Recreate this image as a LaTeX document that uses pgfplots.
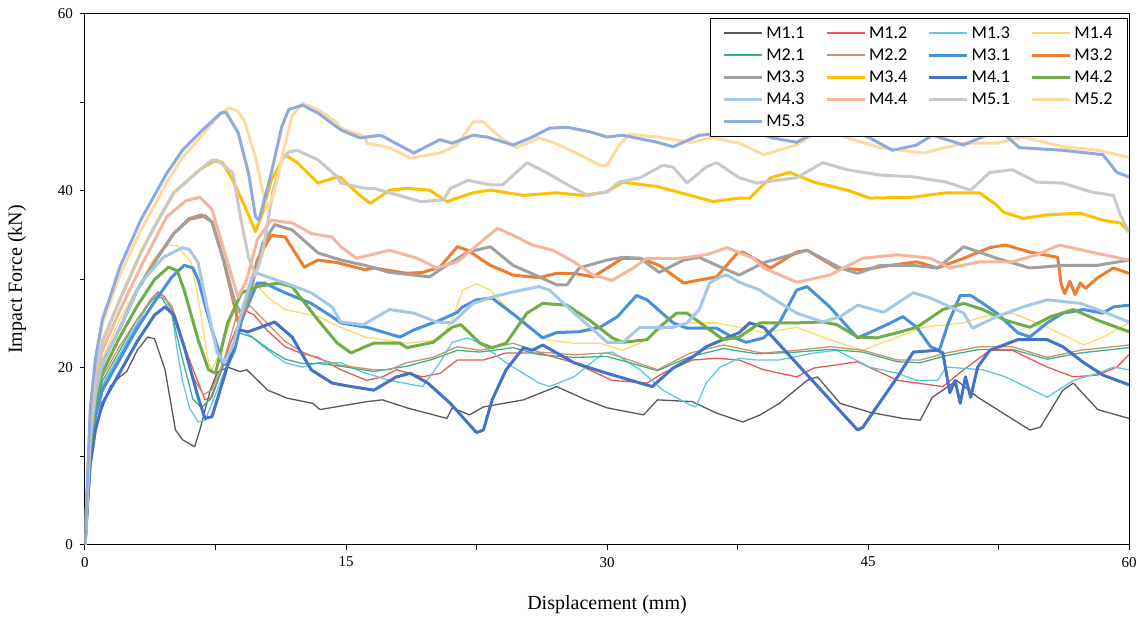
\documentclass[border=0pt]{standalone}
\usepackage{pgfplots}
\pgfplotsset{compat=1.18}
\usepackage{fontspec}
\setmainfont{Liberation Serif}
\newfontfamily\legendfont{Carlito}
\definecolor{cA}{HTML}{595959}
\definecolor{cB}{HTML}{E8575A}
\definecolor{cC}{HTML}{5BC8E8}
\definecolor{cD}{HTML}{FFD966}
\definecolor{cE}{HTML}{3CB08A}
\definecolor{cF}{HTML}{C9926B}
\definecolor{cG}{HTML}{4A90D9}
\definecolor{cH}{HTML}{ED7D31}
\definecolor{cI}{HTML}{A0A0A0}
\definecolor{cJ}{HTML}{FFC000}
\definecolor{cK}{HTML}{4472C4}
\definecolor{cL}{HTML}{70AD47}
\definecolor{cM}{HTML}{A5C8E8}
\definecolor{cN}{HTML}{F4B6A0}
\definecolor{cO}{HTML}{C9C9C9}
\definecolor{cP}{HTML}{FFD9A0}
\definecolor{cQ}{HTML}{8FAADC}
\begin{document}
\begin{tikzpicture}
\useasboundingbox (-42.5pt,-37pt) rectangle (526.5pt,272.5pt);
\begin{axis}[
 scale only axis, width=522pt, height=265.5pt,
 xmin=0,xmax=60,ymin=0,ymax=60,
 xtick={0,15,30,45,60}, minor xtick={7.5,22.5,37.5,52.5},
 ytick={0,20,40,60}, minor ytick={10,30,50},
 tick align=outside, xtick pos=bottom, ytick pos=left,
 major tick length=2.5pt, minor tick length=2.5pt,
 tick style={black, line width=0.5pt},
 axis line style={black, line width=0.5pt},
 ticklabel style={font=\fontsize{7.5}{9}\selectfont},
 /pgf/number format/assume math mode=true,
 xlabel={Displacement (mm)}, ylabel={Impact Force (kN)},
 label style={font=\fontsize{9.5}{11}\selectfont},
 every axis x label/.style={at={(axis description cs:0.5,0)}, anchor=center, yshift=-30pt},
 every axis y label/.style={at={(axis description cs:0,0.5)}, anchor=center, xshift=-34pt, rotate=90},
 no markers,
 every axis plot/.append style={line join=round},
 legend style={at={(0.999,0.993)}, anchor=north east, legend columns=4,
   font=\legendfont\fontsize{9}{11}\selectfont,
   inner xsep=6pt, inner ysep=2pt, row sep=0pt,
   nodes={inner sep=1.5pt, text height=6.5pt, text depth=1.5pt},
   /tikz/every even column/.append style={column sep=8.75pt}},
 legend image code/.code={\draw[#1] (0pt,0pt) -- (19pt,0pt);},
 legend cell align=left,
]
% M1.1
\addplot[draw=cA, line width=0.65pt] coordinates {(0,0)(0.2,6)(0.4,11)(0.6,13.5)(1,15.5)(1.44,17.9)(2,19)(2.4,19.6)(3,22)(3.6,23.5)(4,23.3)(4.6,19.8)(5.2,13)(5.6,11.9)(6.3,11.1)(6.6,13)(7.2,17.5)(7.6,19.5)(8.2,20.1)(8.9,19.6)(9.3,19.8)(10.5,17.5)(11.6,16.6)(13.1,16)(13.5,15.3)(15,15.8)(16.2,16.2)(17.1,16.4)(18.5,15.5)(20.8,14.3)(21.1,15.5)(22.1,14.7)(22.9,15.6)(25.2,16.4)(27.1,17.9)(28.8,16.4)(30,15.5)(32.1,14.7)(32.9,16.4)(34.9,16.2)(36.3,14.9)(37.8,13.9)(38.8,14.7)(39.9,16.0)(41.5,18.6)(42.1,19.0)(43.4,16.0)(45.1,15.0)(47,14.3)(48,14.1)(48.7,16.7)(49.3,17.5)(50.1,18.6)(51.3,16.7)(54.3,13.0)(54.9,13.3)(56.2,17.5)(56.8,18.3)(58.2,15.3)(60,14.3)};
% M1.2
\addplot[draw=cB, line width=0.65pt] coordinates {(0,0)(0.3,10)(0.6,15)(1,18)(2,21.5)(3,25)(3.8,27.8)(4.2,28.6)(4.6,28)(5.2,25.8)(5.8,22)(6.3,19.4)(6.9,16.4)(7.3,16.7)(7.8,19.5)(8.2,22)(8.7,24.5)(9.2,26.5)(9.7,26)(10.5,24.2)(11.5,22.4)(12.5,21.6)(13.4,21.2)(14.7,19.8)(16.2,18.6)(17.1,19.0)(17.9,19.8)(19.4,19.0)(20.4,19.4)(21.4,20.9)(22.9,20.9)(24.2,21.7)(26.1,21.7)(28.1,20.6)(30.3,18.6)(32.3,18.3)(33.2,19.4)(34.9,20.9)(36.3,21.1)(37.6,20.9)(39,19.8)(40.9,19.0)(41.9,20.0)(44.4,20.7)(46.7,18.6)(49.3,17.9)(50.5,19.8)(52,22)(53.3,22.0)(55.3,20.1)(56.8,19.0)(58.2,19.2)(59.3,20.1)(60,21.5)};
% M1.3
\addplot[draw=cC, line width=0.65pt] coordinates {(0,0)(0.3,10)(0.6,15)(1,18)(2,21.5)(3,25)(3.8,27.8)(4.3,28.5)(4.7,27.5)(5,26.2)(5.3,22)(5.6,18.6)(6,15.5)(6.5,13.9)(6.9,14.1)(7.5,17)(8.2,20.6)(8.8,24.6)(9.6,23.5)(10.5,22)(11.5,20.6)(12.5,20.1)(13.4,20.6)(14.7,20.6)(16,19.5)(17.5,18.6)(19.4,17.9)(20.4,20.6)(21.1,22.9)(22,23.4)(22.7,22.8)(24.2,20.6)(26.1,18.3)(26.7,17.9)(28.1,19.0)(29.8,21.7)(30.3,21.8)(31.9,19.8)(33.2,17.5)(34.8,15.8)(35.1,15.6)(35.7,18.3)(36.5,20.1)(37.6,21.1)(38.6,20.9)(39.9,20.9)(41.9,21.7)(43.2,22.0)(45.1,20.1)(46.7,19.4)(47.8,18.6)(49,18.6)(49.5,20.1)(51.6,19.8)(52.9,19.0)(55.3,16.7)(56.8,18.6)(58.2,19.4)(59.1,20.1)(60,19.8)};
% M1.4
\addplot[draw=cD, line width=0.65pt] coordinates {(0,0)(0.3,12)(0.6,17)(1,21)(2,25.5)(3,29)(4,32.5)(4.8,33.9)(5.3,33.8)(6.1,31.9)(6.5,28)(7.1,20.6)(7.3,19.8)(7.8,22)(8.5,26.2)(9.2,29.5)(9.8,29.5)(10.5,28)(11.5,26.6)(12.5,26.2)(13.4,25.8)(14.7,24.6)(16.1,23.5)(18.5,22.8)(20.4,23.2)(21.1,25.4)(21.7,28.8)(22.5,29.5)(23.3,28.8)(24.2,26.9)(25.2,25.1)(26.5,23.2)(28.1,22.8)(29.6,22.8)(30.9,22.0)(31.9,22.8)(33,24.3)(34.6,25.1)(36.3,25.1)(37.6,24.6)(39,24.0)(40.9,24.6)(42.8,23.2)(44.7,22.0)(46.3,23.2)(48.2,24.6)(50.5,25.1)(51.6,25.8)(53.3,26.2)(55.3,24.6)(57.4,22.6)(58.5,23.5)(60,25.1)};
% M2.1
\addplot[draw=cE, line width=0.65pt] coordinates {(0,0)(0.3,10)(0.6,15)(1,18.5)(2,22)(3,25.5)(3.9,27.8)(4.4,28)(5,26)(5.6,21)(6.2,16.5)(6.7,15.5)(7.2,16.5)(8,20.5)(8.8,24)(9.6,23.5)(10.5,22.2)(11.5,21)(12.5,20.5)(13.5,20.5)(14.7,20.2)(16.6,19.6)(18.5,20.2)(20,21)(21.4,22)(22.7,21.8)(24.6,22.3)(26.1,21.5)(28.1,21.2)(30,21.3)(31.3,20.6)(32.9,19.7)(34.8,21.3)(36.7,22.2)(38.6,21.6)(40.9,21.8)(42.8,22.1)(44.7,21.8)(46.7,20.7)(48,20.6)(49.5,21.4)(51.4,22.1)(53.3,22.1)(55.3,21)(57.2,21.7)(60,22.3)};
% M2.2
\addplot[draw=cF, line width=0.65pt] coordinates {(0,0)(0.3,11)(0.6,16)(1,19)(2,22.5)(3,25.5)(3.8,27.8)(4.4,28.3)(5,27)(5.6,23)(6.2,19)(6.8,17)(7.3,17.5)(8,21)(8.8,26.5)(9.5,27)(10.5,25)(11.5,23)(12.5,21.8)(13.5,21)(14.7,20.3)(16.6,19.8)(17.5,19.8)(18.5,20.6)(20,21.2)(21.4,22.4)(22.7,22.0)(24.6,22.8)(26.1,21.8)(28.1,21.5)(30,21.7)(31.3,20.9)(32.9,19.8)(33.2,20.1)(34.8,21.7)(36.7,22.6)(38.6,21.8)(39,21.7)(40.9,22.0)(42.8,22.4)(44.7,22.0)(46.7,20.9)(48,20.9)(49.5,21.7)(51.4,22.4)(53.3,22.4)(55.3,21.2)(57.2,22.0)(60,22.6)};
% M3.1
\addplot[draw=cG, line width=1.5pt] coordinates {(0,0)(0.3,10)(0.6,14.5)(1,17.5)(2,21)(3,24.5)(4,27.5)(5,30.3)(5.7,31.6)(6.2,31.3)(6.5,30)(7.3,24.3)(7.9,20.6)(8.2,20.3)(8.6,22)(9,25.4)(9.9,29.6)(10.3,29.6)(11.5,28.5)(13,27.3)(14.2,25.8)(14.7,25.1)(16.2,24.6)(18.1,23.5)(18.9,24.3)(20.4,25.4)(21.4,26.3)(21.7,26.9)(22.5,27.7)(23.4,27.9)(24.8,25.8)(26.3,23.4)(27.1,24.0)(28.4,24.1)(29.6,24.6)(30.6,25.8)(31.7,28.2)(32.3,27.7)(33.8,25.1)(34.6,24.5)(36.3,24.5)(37.1,23.6)(38,22.9)(39,23.4)(39.9,25.1)(40.9,28.8)(41.5,29.2)(42.8,26.9)(44.4,23.4)(45.1,24.0)(46.3,25.1)(47,25.8)(47.8,24.6)(48.6,22.4)(49.1,22)(49.6,25)(50.3,28.2)(50.9,28.2)(51.6,27.3)(52.4,26.2)(53.6,24.0)(54.3,23.5)(55.3,25.1)(56.2,26.2)(57.4,26.6)(58.5,26.2)(59.1,26.9)(60,27.1)};
% M3.2
\addplot[draw=cH, line width=1.5pt] coordinates {(0,0)(0.3,12)(0.6,17)(1,20.5)(2,24.5)(3,28.8)(4,32)(5.1,35.2)(6,36.8)(6.9,37.2)(7.3,36.5)(8,31.9)(8.6,26.9)(8.8,25.2)(9.2,26.5)(9.9,32.2)(10.7,35)(11.5,34.8)(12.6,31.4)(13.4,32.2)(14.5,31.9)(16.1,31.1)(16.6,31.3)(18.5,30.7)(19.4,30.8)(20.4,31.4)(21.4,33.7)(22,33.3)(23.3,31.6)(24.6,30.5)(26.1,30.2)(27.1,30.7)(28.1,30.7)(29.2,30.3)(30.9,32.4)(31.9,32.4)(33,31.6)(34.4,29.6)(36.3,30.3)(37.5,33.0)(37.8,33.1)(39.4,31.3)(40.9,33.1)(41.5,33.3)(43.2,31.3)(44.7,31.1)(46.3,31.6)(47.8,32.0)(49,31.3)(50.5,32.4)(52,33.6)(52.9,33.9)(54.3,33.1)(55.9,32.5)(56.1,29.5)(56.3,28.4)(56.6,29.8)(56.9,28.3)(57.2,29.6)(57.5,29.0)(58.2,30.2)(59.1,31.3)(60,30.7)};
% M3.3
\addplot[draw=cI, line width=1.5pt] coordinates {(0,0)(0.3,12)(0.6,17)(1,20.5)(2,24.5)(3,28.8)(4,32)(5.1,35.2)(6,36.9)(6.7,37.3)(7.3,36.5)(8,32)(8.6,27.5)(9,26)(9.5,28.5)(10.2,34)(10.9,36.2)(11.9,35.6)(13.4,33.0)(14.2,32.5)(14.7,32.2)(16.1,31.6)(17.5,30.8)(19.8,30.3)(20.4,31.1)(22,33.1)(23.3,33.7)(24.6,31.6)(26.1,30.3)(27.1,29.4)(27.7,29.4)(28.4,31.3)(30,32.2)(30.9,32.5)(31.9,32.4)(33,30.8)(34.4,32.2)(35.3,32.5)(36.3,31.6)(37.6,30.5)(39,31.9)(41.5,33.3)(43.4,31.3)(44.4,30.7)(45.7,31.6)(47.6,31.6)(49,31.3)(50.5,33.7)(52.4,32.4)(54.3,31.3)(56.2,31.6)(58.2,31.6)(60,32.2)};
% M3.4
\addplot[draw=cJ, line width=1.5pt] coordinates {(0,0)(0.3,14)(0.6,19.5)(1,23)(2,27.7)(3.2,33)(4,36)(5.1,39.8)(6.6,42.4)(7.5,43.5)(7.9,43.2)(8.5,41.2)(9.2,38.2)(9.8,35.4)(10.2,37.5)(10.7,41.2)(11.5,44.1)(12.2,43.2)(13.4,40.9)(14.5,41.6)(14.7,41.5)(15.8,39.5)(16.4,38.6)(17.5,40.1)(18.5,40.3)(19.8,40.1)(20.8,38.8)(22.3,39.8)(23.3,40.1)(25.2,39.5)(27.1,39.8)(28.6,39.5)(30,39.9)(30.9,41.0)(32.9,40.5)(34.8,39.5)(36.1,38.8)(37.6,39.2)(38.2,39.2)(39.4,41.5)(40.5,42.1)(41.9,41.0)(43.8,40.1)(45.1,39.2)(47.6,39.3)(49.5,39.8)(51.4,39.8)(52.4,38.4)(52.8,37.6)(53.9,36.9)(55.3,37.3)(57.2,37.5)(58.5,36.7)(59.5,36.4)(60,35.4)};
% M4.1
\addplot[draw=cK, line width=1.5pt] coordinates {(0,0)(0.3,9)(0.6,13)(1,16)(2,19.5)(3,23)(4,26)(4.6,26.9)(5.1,26)(5.7,22.4)(6.5,16.7)(6.9,14.3)(7.3,14.5)(8,19.0)(8.8,24.3)(9.4,24.1)(10.9,25.2)(11.9,23.5)(13,19.8)(14.2,18.3)(15.3,17.9)(16.6,17.5)(17.9,19.0)(18.7,19.4)(19.7,18.3)(21,16.0)(22.5,12.7)(22.9,13.0)(23.4,16.4)(24.2,19.8)(25.2,22.3)(25.7,22.0)(26.3,22.6)(28.1,20.6)(30,19.4)(31.9,18.3)(32.6,17.9)(33.8,20.0)(34.9,21.2)(35.7,22.4)(37.6,24.0)(38.2,25.1)(39,24.6)(44.4,13.0)(44.7,13.3)(45.5,15.6)(46.7,19.0)(47.6,21.8)(49,22.0)(49.3,21.7)(49.7,17.2)(50,18.6)(50.3,16.0)(50.6,19.0)(50.9,16.7)(51.3,20.1)(52,22.0)(53.6,23.2)(55.3,23.2)(56.2,22.4)(57.4,20.6)(58.5,19.2)(60,18.1)};
% M4.2
\addplot[draw=cL, line width=1.5pt] coordinates {(0,0)(0.3,11)(0.6,16)(1,19.5)(2,23.5)(3,27)(4,30)(4.8,31.4)(5.3,31)(5.7,28.8)(6.5,23.2)(7.1,19.8)(7.5,19.4)(8.2,25.1)(9,28.5)(9.9,29.2)(11.1,29.6)(11.9,29.2)(13.4,25.4)(14.5,22.8)(15.3,21.7)(16.1,22.4)(16.6,22.8)(18.1,22.8)(18.5,22.3)(20,22.9)(21.1,24.6)(21.6,24.9)(22.7,22.8)(23.4,22.3)(24.2,22.8)(25.4,26.2)(26.3,27.3)(27.7,27.1)(29,25.4)(30.3,23.4)(30.9,22.9)(32.3,23.2)(33,24.6)(34,26.2)(34.6,26.2)(35.7,24.6)(36.7,23.2)(37.6,23.5)(38.8,25.1)(40.9,25.1)(42.4,25.2)(43.2,24.9)(44.4,23.5)(45.5,23.4)(46.7,24.0)(47.8,24.6)(49.3,26.6)(50.5,27.3)(51.6,26.6)(52.9,25.4)(54.3,24.6)(55.5,25.8)(56.8,26.6)(58.2,25.4)(60,24.1)};
% M4.3
\addplot[draw=cM, line width=1.5pt] coordinates {(0,0)(0.3,12)(0.6,17)(1,20.5)(2,24.5)(3.2,29.6)(4.5,32.5)(5.6,33.6)(6,33.4)(6.5,31.9)(6.9,28.0)(7.6,21.7)(8,20.6)(8.5,22.5)(9.1,27)(9.6,30.3)(9.9,30.7)(11.5,29.6)(13,28.5)(14.2,26.9)(14.7,25.2)(16,24.9)(17.5,26.6)(18.9,26.2)(20.2,25.2)(21.1,25.1)(22.3,27.3)(23.4,28.0)(24.6,28.6)(26.1,29.2)(26.7,28.8)(28.1,26.2)(29.4,24.0)(30,22.9)(30.9,22.9)(31.9,24.6)(33.8,24.6)(34.6,25.1)(35.3,26.6)(35.9,29.6)(36.5,30.3)(36.9,30.5)(37.6,29.7)(38.8,28.8)(39,28.5)(40.9,26.2)(42.4,25.2)(43.4,25.8)(44.4,27.1)(45.9,26.3)(47.6,28.5)(48.6,27.9)(50.5,26.2)(51,24.5)(52.4,25.8)(53.9,26.9)(55.3,27.7)(57.2,27.3)(58.2,26.6)(60,25.2)};
% M4.4
\addplot[draw=cN, line width=1.5pt] coordinates {(0,0)(0.3,13)(0.6,18.5)(1,22)(2,26.5)(3.2,31.4)(4.7,37.1)(5.8,38.9)(6.6,39.3)(7.3,37.9)(8.2,31.9)(8.8,28)(9.3,30)(9.9,34.5)(10.7,36.7)(11.9,36.4)(13,35.2)(14.2,34.8)(14.7,33.7)(15.6,32.4)(17.5,33.3)(19.1,32.4)(20.2,31.3)(21.4,32.0)(23.7,35.8)(24.6,35.0)(25.7,33.9)(26.9,33.3)(28.1,32.0)(29.2,30.5)(30.3,29.9)(31.5,31.3)(32.3,32.4)(34.2,32.4)(35.7,32.8)(36.9,33.6)(38.4,32.4)(39,31.3)(40.9,29.7)(42.8,30.5)(44.7,32.4)(46.7,32.8)(48.6,32.4)(49.7,31.3)(51.4,32.0)(53.3,32.0)(54.7,32.8)(56,33.9)(57.8,33.1)(60,32.2)};
% M5.1
\addplot[draw=cO, line width=1.5pt] coordinates {(0,0)(0.3,14)(0.6,19.5)(1,23)(2,27.7)(3.2,33)(4,36)(5.1,39.8)(6.6,42.4)(7.3,43.5)(7.8,43.2)(8.5,42)(9,36.4)(9.4,32.5)(9.8,30.5)(10.2,33)(10.8,40)(11.3,43.5)(11.7,44.4)(12.2,44.6)(13.4,43.5)(14.5,41.6)(14.7,40.9)(16.1,40.3)(16.6,40.3)(17.5,39.8)(19.3,38.8)(20.6,39.0)(21,40.3)(22,41.2)(23.3,40.7)(24,40.7)(25.4,43.2)(26.5,42.1)(28.1,40.3)(28.9,39.5)(30,39.9)(30.7,41.0)(31.9,41.5)(33.2,42.9)(33.8,42.7)(34.6,40.9)(35.7,42.7)(36.3,43.2)(37.6,41.5)(38.6,40.9)(40.9,41.5)(42.4,43.2)(43.8,42.4)(45.7,41.8)(47.6,41.6)(49.5,41.0)(50.9,40.1)(52,42.1)(53.3,42.4)(54.7,41.0)(56.2,40.9)(57.8,39.9)(59.1,39.5)(59.5,37.3)(60,35.3)};
% M5.2
\addplot[draw=cP, line width=1.5pt] coordinates {(0,0)(0.3,15)(0.6,21)(1,25)(2,30.5)(3.2,35.5)(4.7,41)(5.6,43.8)(6.6,46)(7.8,48.8)(8.3,49.4)(8.8,49)(9.2,47.7)(9.8,43.8)(10.2,40.1)(10.5,38)(10.9,40)(11.4,44.5)(11.9,48.5)(12.5,49.9)(13.4,49.2)(14.5,47.7)(14.7,47.1)(16.1,46.1)(16.2,45.4)(17.5,44.9)(18.7,43.7)(20.4,44.3)(21.4,45.2)(22.3,47.8)(22.9,47.8)(23.9,46.0)(24.8,44.9)(26.1,46.0)(26.9,45.5)(28.1,44.4)(29.6,42.9)(30,42.9)(30.7,45.2)(31.3,46.4)(32.9,46.1)(34.8,45.5)(36.1,46.0)(37.6,45.4)(38.8,44.3)(39,44.1)(40.9,45.2)(42.4,47.1)(43.8,46.0)(45.7,44.9)(48.2,44.3)(50.5,45.4)(52.4,45.4)(53.9,46.1)(56.2,45.0)(58.2,44.6)(60,43.8)};
% M5.3
\addplot[draw=cQ, line width=1.5pt] coordinates {(0,0)(0.3,15.3)(0.6,21)(1,25.5)(1.44,28)(2,31.4)(3.2,36.7)(4.7,42)(5.6,44.6)(6.6,46.6)(7.8,48.8)(8.1,48.9)(8.8,46.6)(9.4,42)(9.8,37.1)(10,36.7)(10.7,42.0)(11.3,47.2)(11.7,49.2)(12.5,49.7)(13.4,48.8)(14.5,47.2)(14.7,46.9)(15.8,46.0)(17,46.3)(18.9,44.3)(20.4,45.8)(21.1,45.4)(22.3,46.3)(23.1,46.1)(24.6,45.2)(25.6,46.0)(26.7,47.1)(27.7,47.2)(29,46.7)(30,46.1)(30.9,46.3)(32.9,45.5)(33.8,45.0)(35.3,46.3)(37.2,46.6)(38,47.0)(39.5,46.0)(40.9,45.5)(42.4,47.1)(43.5,47.3)(45.1,46.0)(46.4,44.6)(47.8,45.2)(48.7,46.3)(50.5,45.2)(51.8,46.3)(52.9,46.3)(53.7,44.9)(56.2,44.6)(58.5,44.1)(59.3,42.1)(60,41.6)};
\legend{M1.1,M1.2,M1.3,M1.4,M2.1,M2.2,M3.1,M3.2,M3.3,M3.4,M4.1,M4.2,M4.3,M4.4,M5.1,M5.2,M5.3}
\end{axis}
\end{tikzpicture}
\end{document}
